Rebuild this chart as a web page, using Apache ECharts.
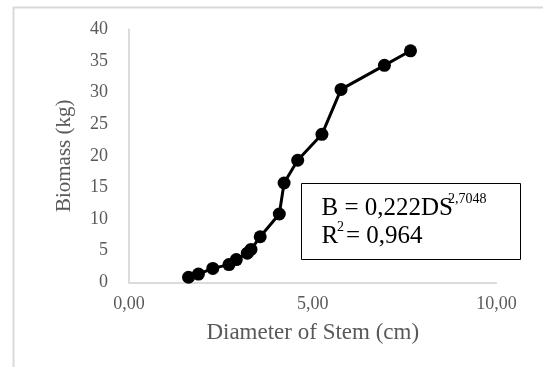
<!DOCTYPE html>
<html>
<head>
<meta charset="utf-8">
<script src="https://cdn.jsdelivr.net/npm/echarts@6/dist/echarts.min.js"></script>
<style>
html,body{margin:0;padding:0;background:#fff;}
#chart{width:543px;height:367px;}
</style>
</head>
<body>
<div id="chart"></div>
<script>
// Data
var diameter = [1.62, 1.89, 2.28, 2.72, 2.92, 3.22, 3.32, 3.57, 4.09, 4.22, 4.59, 5.25, 5.77, 6.95, 7.66];
var biomass  = [0.8, 1.3, 2.2, 2.8, 3.6, 4.6, 5.2, 7.2, 10.8, 15.7, 19.3, 23.4, 30.5, 34.3, 36.6];
var xTicks = [0, 5, 10];
var yTicks = [0, 5, 10, 15, 20, 25, 30, 35, 40];
var equationMain = 'B = 0,222DS';
var equationExp = '2,7048';
var r2Label = 'R';
var r2Exp = '2';
var r2Value = '= 0,964';
var xTitle = 'Diameter of Stem (cm)';
var yTitle = 'Biomass (kg)';

var points = diameter.map(function (d, i) { return [d, biomass[i]]; });
var serif = '"Liberation Serif", "Times New Roman", serif';
var grey = '#595959';

var chart = echarts.init(document.getElementById('chart'), null, {renderer: 'canvas'});
chart.setOption({
  animation: false,
  backgroundColor: '#fff',
  grid: {left: 129, right: 46.5, top: 29.3, bottom: 84.7, containLabel: false},
  xAxis: {
    type: 'value', min: xTicks[0], max: xTicks[xTicks.length - 1], interval: 5,
    name: xTitle, nameLocation: 'middle', nameGap: 39,
    nameTextStyle: {fontFamily: serif, fontSize: 23, color: grey},
    axisLine: {show: true, lineStyle: {color: '#d0d0d0', width: 1.5}},
    axisTick: {show: false},
    splitLine: {show: false},
    axisLabel: {
      margin: 13, fontFamily: serif, fontSize: 18, color: grey,
      formatter: function (v) { return v.toFixed(2).replace('.', ','); }
    }
  },
  yAxis: {
    type: 'value', min: yTicks[0], max: yTicks[yTicks.length - 1], interval: 5,
    name: yTitle, nameLocation: 'middle', nameGap: 54, nameRotate: 90,
    nameTextStyle: {fontFamily: serif, fontSize: 21, color: grey},
    axisLine: {show: true, lineStyle: {color: '#d0d0d0', width: 1.5}},
    axisTick: {show: false},
    splitLine: {show: false},
    axisLabel: {margin: 21, fontFamily: serif, fontSize: 18, color: grey}
  },
  series: [{
    type: 'line',
    data: points,
    symbol: 'circle',
    symbolSize: 13,
    itemStyle: {color: '#000'},
    lineStyle: {color: '#000', width: 3},
    z: 3
  }],
  graphic: [
    {type: 'rect', left: 11, top: 5, shape: {width: 600, height: 400},
     style: {fill: 'none', stroke: '#d9d9d9', lineWidth: 2}, silent: true, z: 0},
    {type: 'rect', left: 301, top: 183, shape: {width: 219, height: 76},
     style: {fill: '#fff', stroke: '#000', lineWidth: 1}, z: 10},
    {type: 'text', left: 321.5, top: 196, z: 11,
     style: {text: equationMain, font: '25px ' + serif, fill: '#000'}},
    {type: 'text', left: 448, top: 192.5, z: 11,
     style: {text: equationExp, font: '14px ' + serif, fill: '#000'}},
    {type: 'text', left: 321.5, top: 223.5, z: 11,
     style: {text: r2Label, font: '25px ' + serif, fill: '#000'}},
    {type: 'text', left: 337, top: 220, z: 11,
     style: {text: r2Exp, font: '14px ' + serif, fill: '#000'}},
    {type: 'text', left: 346, top: 223.5, z: 11,
     style: {text: r2Value, font: '25px ' + serif, fill: '#000'}}
  ]
});
</script>
</body>
</html>
